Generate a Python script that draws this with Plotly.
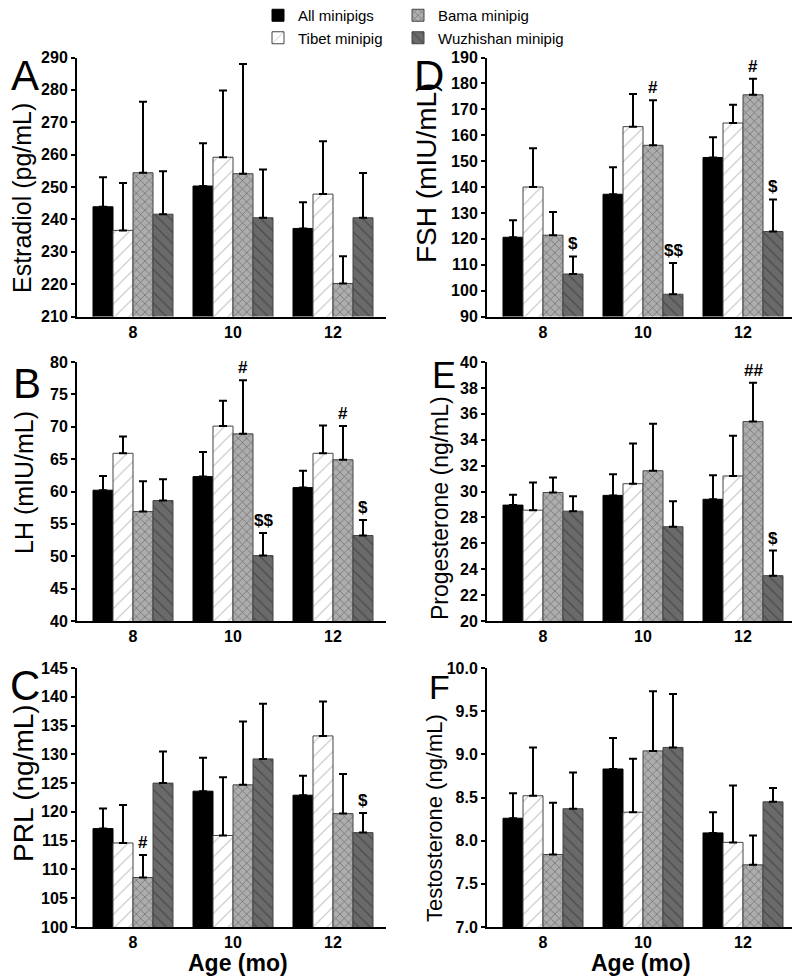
import plotly.graph_objects as go

ages = ["8", "10", "12"]
group_names = ["All minipigs", "Tibet minipig", "Bama minipig", "Wuzhishan minipig"]

# one list per group (All, Tibet, Bama, Wuzhishan); values at ages 8, 10, 12 months
estradiol_mean = [[243.9, 250.3, 237.2], [236.6, 259.2, 247.8], [254.4, 254.1, 220.2], [241.6, 240.5, 240.5]]
estradiol_sd = [[9.1, 13.2, 8.1], [14.6, 20.6, 16.3], [21.9, 33.9, 8.4], [13.3, 14.9, 13.8]]
estradiol_marks = [["", "", ""], ["", "", ""], ["", "", ""], ["", "", ""]]

fsh_mean = [[120.6, 137.2, 151.4], [140.0, 163.3, 164.7], [121.4, 156.1, 175.6], [106.4, 98.6, 122.8]]
fsh_sd = [[6.6, 10.4, 7.8], [15.0, 12.6, 7.1], [8.9, 17.4, 6.2], [6.8, 12.1, 12.4]]
fsh_marks = [["", "", ""], ["", "", ""], ["", "#", "#"], ["$", "$$", "$"]]

lh_mean = [[60.2, 62.3, 60.6], [65.9, 70.1, 65.9], [56.9, 68.9, 64.9], [58.6, 50.1, 53.2]]
lh_sd = [[2.2, 3.8, 2.6], [2.6, 3.9, 4.3], [4.7, 8.3, 5.2], [3.3, 3.5, 2.4]]
lh_marks = [["", "", ""], ["", "", ""], ["", "#", "#"], ["", "$$", "$"]]

prog_mean = [[28.95, 29.7, 29.4], [28.56, 30.6, 31.2], [29.92, 31.6, 35.4], [28.48, 27.28, 23.5]]
prog_sd = [[0.8, 1.64, 1.86], [2.14, 3.1, 3.1], [1.16, 3.64, 3.0], [1.16, 1.97, 1.94]]
prog_marks = [["", "", ""], ["", "", ""], ["", "", "##"], ["", "", "$"]]

prl_mean = [[117.1, 123.6, 122.9], [114.6, 115.9, 133.2], [108.6, 124.7, 119.7], [125.0, 129.2, 116.4]]
prl_sd = [[3.5, 5.8, 3.4], [6.6, 10.1, 6.0], [3.9, 11.0, 6.9], [5.5, 9.6, 3.4]]
prl_marks = [["", "", ""], ["", "", ""], ["#", "", ""], ["", "", "$"]]

testo_mean = [[8.26, 8.83, 8.09], [8.52, 8.33, 7.98], [7.84, 9.04, 7.72], [8.37, 9.08, 8.45]]
testo_sd = [[0.29, 0.36, 0.24], [0.56, 0.62, 0.66], [0.60, 0.69, 0.34], [0.42, 0.62, 0.16]]
testo_marks = [["", "", ""], ["", "", ""], ["", "", ""], ["", "", ""]]

FONT = "Liberation Sans, Arial, sans-serif"

styles = [
    dict(color="black", line="black", pattern=dict(shape="")),
    dict(color="white", line="#444444",
         pattern=dict(shape="/", fgcolor="#808080", bgcolor="white", size=10, solidity=0.1, fillmode="overlay")),
    dict(color="#adadad", line="#444444",
         pattern=dict(shape="x", fgcolor="#3a3a3a", bgcolor="#adadad", size=6, solidity=0.25, fillmode="overlay")),
    dict(color="#6a6a6a", line="#444444",
         pattern=dict(shape="\\", fgcolor="#2a2a2a", bgcolor="#6a6a6a", size=8, solidity=0.16, fillmode="overlay")),
]

# the page body adds an 8 px margin, so the figure is 8 px smaller and coordinates are page pixels minus 8
PAGE_OFF = 8
W, H = 800 - PAGE_OFF, 976 - PAGE_OFF


def px_x(p):
    return (p - PAGE_OFF) / W


def px_y(p):
    return 1 - (p - PAGE_OFF) / H


col_x = [[px_x(77), px_x(386)], [px_x(487), px_x(796)]]
row_y = [[px_y(316.5), px_y(57.5)], [px_y(621), px_y(362)], [px_y(927), px_y(668)]]

# letter, y title, mean, sd, marks, range, dtick, tickformat, row, col, title px pos, title size, letter px pos, letter size
panels = [
    ("A", "Estradiol (pg/mL)", estradiol_mean, estradiol_sd, estradiol_marks, [210, 290], 10, None, 0, 0, (22, 198), 25, (25, 75), 42),
    ("D", "FSH (mIU/mL)", fsh_mean, fsh_sd, fsh_marks, [90, 190], 10, None, 0, 1, (427, 173), 28, (429, 75), 42),
    ("B", "LH (mIU/mL)", lh_mean, lh_sd, lh_marks, [40, 80], 5, None, 1, 0, (24, 483), 25, (27, 383), 42),
    ("E", "Progesterone (ng/mL)", prog_mean, prog_sd, prog_marks, [20, 40], 2, None, 1, 1, (440, 508), 23, (444, 375), 36),
    ("C", "PRL (ng/mL)", prl_mean, prl_sd, prl_marks, [100, 145], 5, None, 2, 0, (23, 783), 28, (25, 685), 42),
    ("F", "Testosterone (ng/mL)", testo_mean, testo_sd, testo_marks, [7.0, 10.0], 0.5, ".1f", 2, 1, (434, 818), 22, (439, 687), 34),
]

tick_font = dict(family=FONT, size=16, color="black", weight="bold")

fig = go.Figure()
annotations = []
layout_axes = {}

for n, (letter, ytitle, mean, sd, marks, yr, dt, tf, r, c, tpos, tsize, lpos, lsize) in enumerate(panels, start=1):
    xa = "x" if n == 1 else f"x{n}"
    ya = "y" if n == 1 else f"y{n}"
    for k, name in enumerate(group_names):
        st = styles[k]
        fig.add_trace(go.Bar(
            x=ages, y=mean[k], name=name, xaxis=xa, yaxis=ya,
            marker=dict(color=st["color"], line=dict(color=st["line"], width=1), pattern=st["pattern"]),
            error_y=dict(type="data", symmetric=False, array=sd[k], arrayminus=[0] * len(ages),
                         color="black", thickness=2, width=4),
            showlegend=(n == 1),
            legend="legend" if k in (0, 1) else "legend2",
        ))
        for i in range(len(ages)):
            if marks[k][i]:
                annotations.append(dict(
                    x=i + (k - 1.5) * 0.2, y=mean[k][i] + sd[k][i], xref=xa, yref=ya,
                    text="<b>" + marks[k][i] + "</b>", showarrow=False, yanchor="bottom", yshift=1,
                    font=dict(family=FONT, size=17, color="black", weight="bold"),
                ))
    xkey = "xaxis" if n == 1 else f"xaxis{n}"
    ykey = "yaxis" if n == 1 else f"yaxis{n}"
    layout_axes[xkey] = dict(
        domain=col_x[c], anchor=ya, type="category", range=[-0.56, 2.53],
        showline=True, linecolor="black", linewidth=2, ticks="", ticklen=0, showgrid=False, zeroline=False,
        tickfont=tick_font, tickprefix="<b>", ticksuffix="</b>",
    )
    layout_axes[ykey] = dict(
        domain=row_y[r], anchor=xa, range=yr, dtick=dt, tick0=yr[0],
        showline=True, linecolor="black", linewidth=2, ticks="outside", ticklen=4, tickwidth=2,
        tickcolor="black", showgrid=False, zeroline=False,
        tickfont=tick_font, tickprefix="<b>", ticksuffix="</b>",
    )
    if tf:
        layout_axes[ykey]["tickformat"] = tf
    annotations.append(dict(
        x=px_x(tpos[0]), y=px_y(tpos[1]), xref="paper", yref="paper", text=ytitle, textangle=-90,
        showarrow=False, xanchor="center", yanchor="middle",
        font=dict(family=FONT, size=tsize, color="black"),
    ))
    annotations.append(dict(
        x=px_x(lpos[0]), y=px_y(lpos[1]), xref="paper", yref="paper", text=letter,
        showarrow=False, xanchor="center", yanchor="middle",
        font=dict(family=FONT, size=lsize, color="black"),
    ))

for xpx in (237.5, 641):
    annotations.append(dict(
        x=px_x(xpx), y=px_y(963), xref="paper", yref="paper", text="<b>Age (mo)</b>",
        showarrow=False, xanchor="center", yanchor="middle",
        font=dict(family=FONT, size=23, color="black", weight="bold"),
    ))

legend_style = dict(
    orientation="v", yanchor="top", y=1 + 9 / H, xanchor="left", bgcolor="rgba(0,0,0,0)",
    font=dict(family=FONT, size=15, color="black"), itemwidth=30, tracegroupgap=0,
)

fig.update_layout(
    width=W, height=H, margin=dict(l=0, r=0, t=0, b=0, autoexpand=False),
    paper_bgcolor="white", plot_bgcolor="white",
    barmode="group", bargap=0.2, bargroupgap=0,
    annotations=annotations,
    legend=dict(x=px_x(258), **legend_style),
    legend2=dict(x=px_x(398), **legend_style),
    **layout_axes,
)

fig.write_html("out.html")
